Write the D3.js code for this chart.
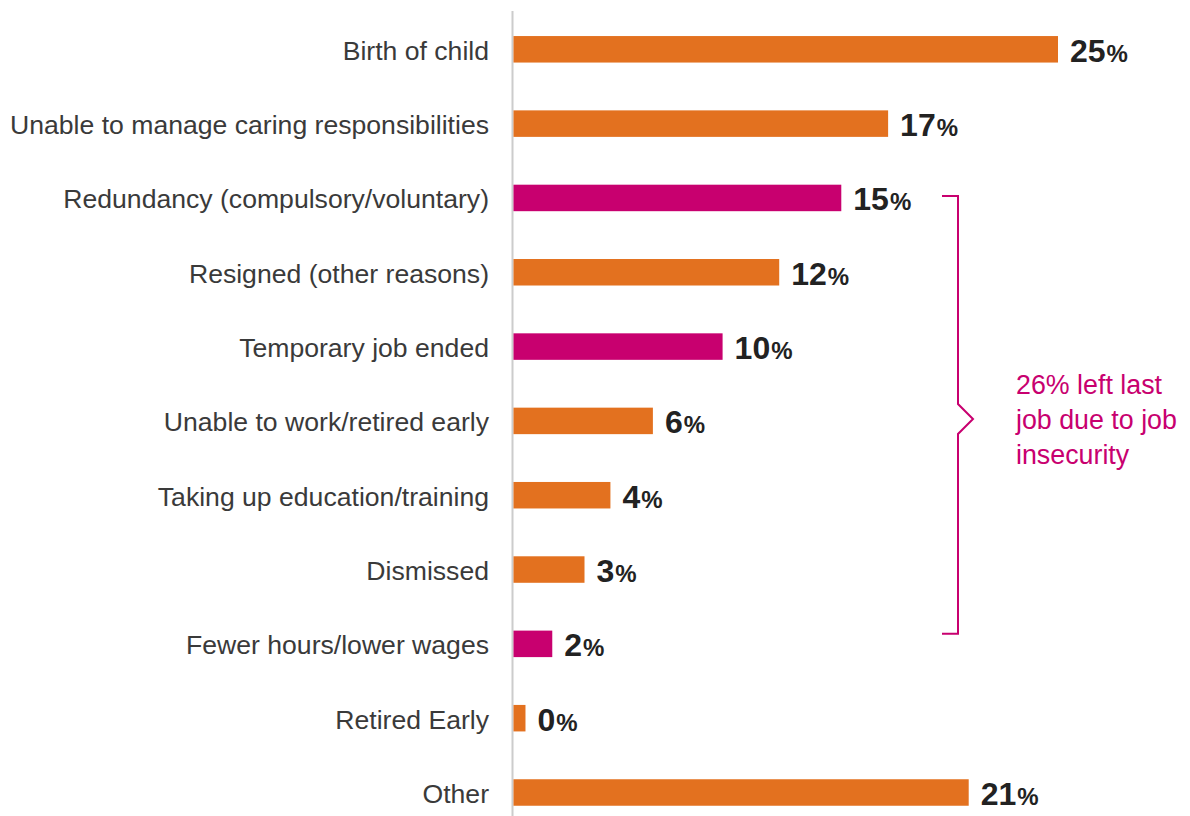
<!DOCTYPE html>
<html>
<head>
<meta charset="utf-8">
<script src="https://cdn.jsdelivr.net/npm/d3@7"></script>
<style>
  html, body { margin: 0; padding: 0; background: #fff; }
  svg { display: block; }
</style>
</head>
<body>
<svg id="chart" width="1190" height="816"></svg>
<script>
const categories = [
  "Birth of child",
  "Unable to manage caring responsibilities",
  "Redundancy (compulsory/voluntary)",
  "Resigned (other reasons)",
  "Temporary job ended",
  "Unable to work/retired early",
  "Taking up education/training",
  "Dismissed",
  "Fewer hours/lower wages",
  "Retired Early",
  "Other"
];
const values = [25, 17.2, 15.05, 12.2, 9.6, 6.4, 4.45, 3.26, 1.78, 0.55, 20.9];
const valueLabels = ["25", "17", "15", "12", "10", "6", "4", "3", "2", "0", "21"];
const insecurity = [false, false, true, false, true, false, false, false, true, false, false];
const annotationLines = ["26% left last", "job due to job", "insecurity"];

const ORANGE = "#E3711F";
const MAGENTA = "#C8006F";

const svg = d3.select("#chart");

const x = d3.scaleLinear().domain([0, 25]).range([513.5, 1058]);
const y = d3.scalePoint().domain(categories).range([49.3, 792.5]);
const barH = 26.5;

// vertical axis line
svg.append("line")
  .attr("x1", 512.5).attr("x2", 512.5)
  .attr("y1", 11).attr("y2", 816)
  .attr("stroke", "#cccccc").attr("stroke-width", 2);

// bars
svg.selectAll("rect.bar")
  .data(categories)
  .join("rect")
  .attr("class", "bar")
  .attr("x", x(0))
  .attr("y", d => y(d) - barH / 2)
  .attr("width", (d, i) => x(values[i]) - x(0))
  .attr("height", barH)
  .attr("fill", (d, i) => insecurity[i] ? MAGENTA : ORANGE);

// category labels
svg.selectAll("text.cat")
  .data(categories)
  .join("text")
  .attr("class", "cat")
  .attr("x", 489)
  .attr("y", d => y(d) + 10.5)
  .attr("text-anchor", "end")
  .attr("font-family", "Liberation Sans, Arial, sans-serif")
  .attr("font-size", 26.6)
  .attr("fill", "#3a3a3a")
  .text(d => d);

// value labels
const vl = svg.selectAll("text.val")
  .data(categories)
  .join("text")
  .attr("class", "val")
  .attr("x", (d, i) => x(values[i]) + 12)
  .attr("y", d => y(d) + 12.5)
  .attr("font-family", "Liberation Sans, Arial, sans-serif")
  .attr("font-weight", "bold")
  .attr("fill", "#222");
vl.append("tspan").attr("font-size", 32).text((d, i) => valueLabels[i]);
vl.append("tspan").attr("font-size", 24).attr("dx", 1).text("%");

// bracket
const bTop = y(categories[2]) - 2, bBot = y(categories[8]) - 10;
const bx = 958, tipY = 419;
const bracket = d3.path();
bracket.moveTo(942, bTop);
bracket.lineTo(bx, bTop);
bracket.lineTo(bx, tipY - 15);
bracket.lineTo(973, tipY);
bracket.lineTo(bx, tipY + 15);
bracket.lineTo(bx, bBot);
bracket.lineTo(942, bBot);
svg.append("path")
  .attr("d", bracket.toString())
  .attr("fill", "none")
  .attr("stroke", MAGENTA)
  .attr("stroke-width", 2);

// annotation
svg.append("g").selectAll("text")
  .data(annotationLines)
  .join("text")
  .attr("x", 1016)
  .attr("y", (d, i) => 394 + i * 35)
  .attr("font-family", "Liberation Sans, Arial, sans-serif")
  .attr("font-size", 26.8)
  .attr("fill", MAGENTA)
  .text(d => d);
</script>
</body>
</html>
